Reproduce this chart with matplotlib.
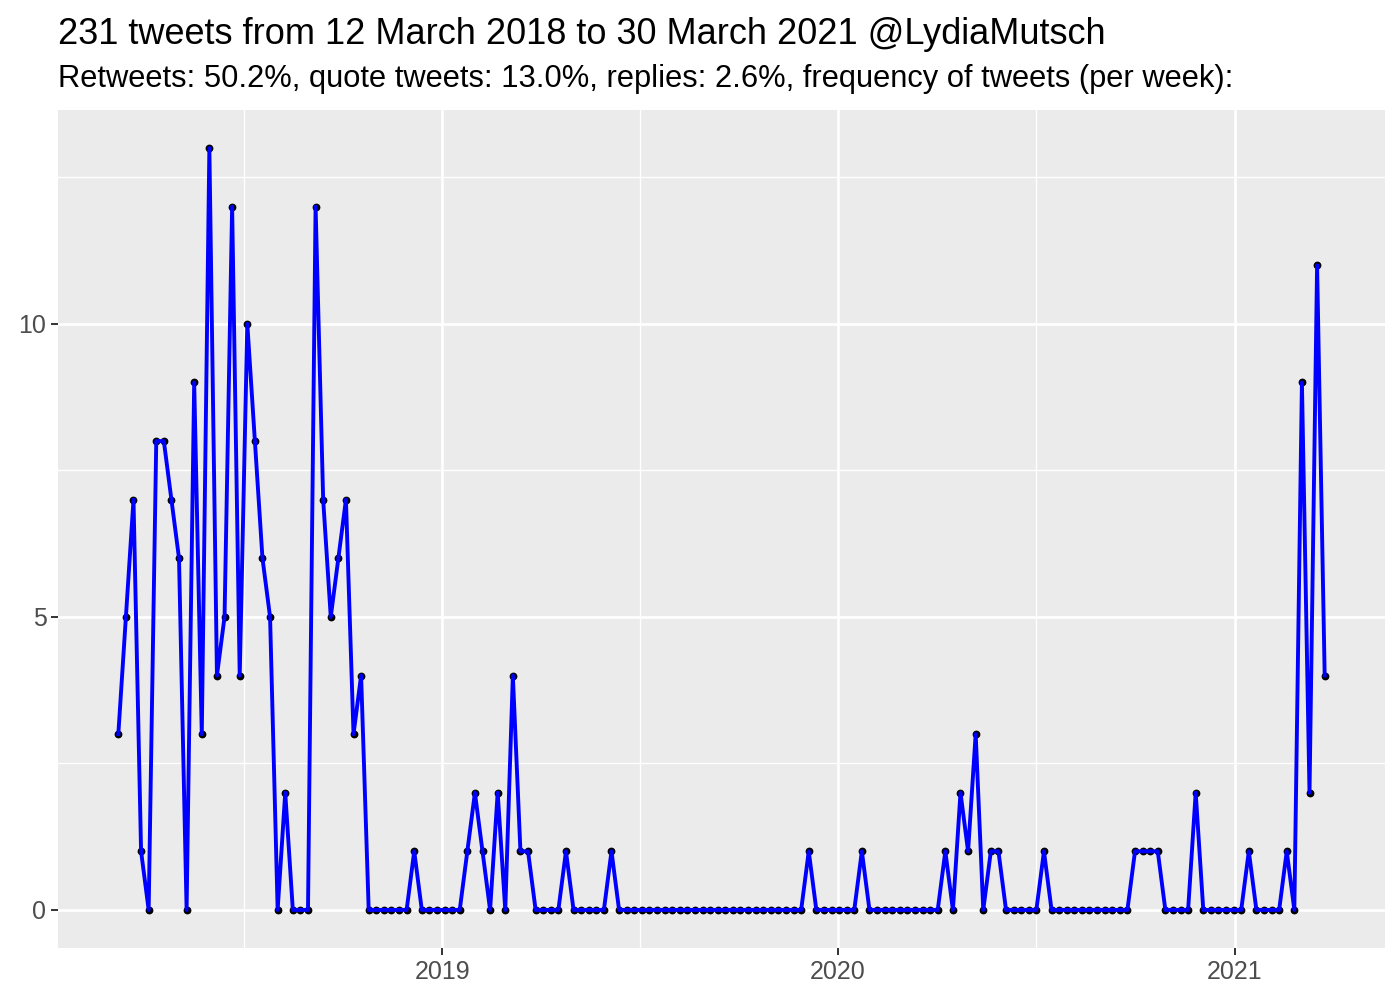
import numpy as np
import pandas as pd
import matplotlib
matplotlib.use("Agg")
import matplotlib.pyplot as plt
import matplotlib.dates as mdates

plt.rcParams['font.family'] = ['Liberation Sans', 'DejaVu Sans']

# ---- data ----
start_date = "2018-03-08"
tweets_per_week = [
    3, 5, 7, 1, 0, 8, 8, 7, 6, 0,
    9, 3, 13, 4, 5, 12, 4, 10, 8, 6,
    5, 0, 2, 0, 0, 0, 12, 7, 5, 6,
    7, 3, 4, 0, 0, 0, 0, 0, 0, 1,
    0, 0, 0, 0, 0, 0, 1, 2, 1, 0,
    2, 0, 4, 1, 1, 0, 0, 0, 0, 1,
    0, 0, 0, 0, 0, 1, 0, 0, 0, 0,
    0, 0, 0, 0, 0, 0, 0, 0, 0, 0,
    0, 0, 0, 0, 0, 0, 0, 0, 0, 0,
    0, 1, 0, 0, 0, 0, 0, 0, 1, 0,
    0, 0, 0, 0, 0, 0, 0, 0, 0, 1,
    0, 2, 1, 3, 0, 1, 1, 0, 0, 0,
    0, 0, 1, 0, 0, 0, 0, 0, 0, 0,
    0, 0, 0, 0, 1, 1, 1, 1, 0, 0,
    0, 0, 2, 0, 0, 0, 0, 0, 0, 1,
    0, 0, 0, 0, 1, 0, 9, 2, 11, 4,
]
weeks = pd.date_range(start_date, periods=len(tweets_per_week), freq="7D")
y_ticks = [0, 5, 10]
y_minor = [2.5, 7.5, 12.5]
x_tick_dates = ["2019-01-01", "2020-01-01", "2021-01-01"]
x_tick_labels = ["2019", "2020", "2021"]
x_minor_dates = ["2018-07-02", "2019-07-02", "2020-07-02"]
title = "231 tweets from 12 March 2018 to 30 March 2021 @LydiaMutsch"
subtitle = "Retweets: 50.2%, quote tweets: 13.0%, replies: 2.6%, frequency of tweets (per week):"

# ---- figure ----
fig = plt.figure(figsize=(14, 10), dpi=100)
ax = fig.add_axes([58/1400, 1-948/1000, (1385-58)/1400, (948-110)/1000])
ax.set_facecolor("#EBEBEB")
for s in ax.spines.values():
    s.set_visible(False)

x = mdates.date2num(weeks.to_pydatetime())
y = np.array(tweets_per_week, dtype=float)

ax.plot(x, y, "o", color="black", markersize=4.6, zorder=3)
ax.plot(x, y, "-", color="#0000FF", linewidth=2.8, zorder=4)

span = x.max() - x.min()
ax.set_xlim(x.min() - 0.05*span, x.max() + 0.05*span)
yr = y.max() - y.min()
ax.set_ylim(y.min() - 0.05*yr, y.max() + 0.05*yr)

xt = mdates.date2num(pd.to_datetime(x_tick_dates).to_pydatetime())
xm = mdates.date2num(pd.to_datetime(x_minor_dates).to_pydatetime())
ax.set_xticks(xt)
ax.set_xticklabels(x_tick_labels)
ax.set_xticks(xm, minor=True)
ax.set_yticks(y_ticks)
ax.set_yticklabels([str(v) for v in y_ticks])
ax.set_yticks(y_minor, minor=True)

ax.grid(which="major", color="white", linewidth=1.9, zorder=0)
ax.grid(which="minor", color="white", linewidth=1.0, zorder=0)
ax.set_axisbelow(True)

ax.tick_params(which="major", length=5.3, width=1.4, color="#333333",
               labelsize=18, labelcolor="#4D4D4D", pad=3)
ax.tick_params(which="minor", length=0)

fig.text(58/1400, 1-44/1000, title, fontsize=26, color="black",
         ha="left", va="baseline")
fig.text(58/1400, 1-87/1000, subtitle, fontsize=22.2, color="black",
         ha="left", va="baseline")

fig.savefig("out.png", dpi=100, facecolor="white")
